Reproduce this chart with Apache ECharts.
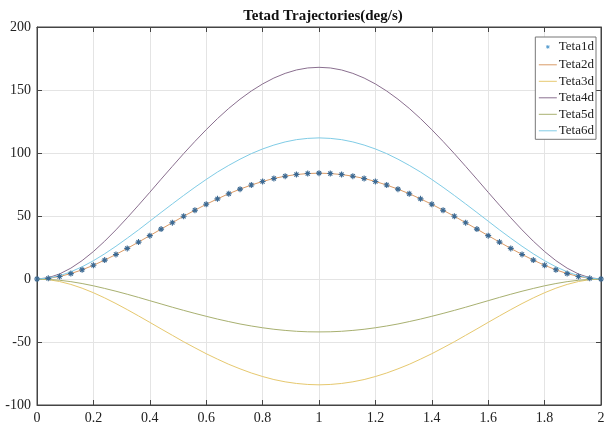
<!DOCTYPE html>
<html>
<head>
<meta charset="utf-8">
<script src="https://cdn.jsdelivr.net/npm/echarts@6/dist/echarts.min.js"></script>
<style>html,body{margin:0;padding:0;background:#fff}#c{width:609px;height:427px}</style>
</head>
<body>
<div id="c"></div>
<script>
var xValues = [0,0.04,0.08,0.12,0.16,0.2,0.24,0.28,0.32,0.36,0.4,0.44,0.48,0.52,0.56,0.6,0.64,0.68,0.72,0.76,0.8,0.84,0.88,0.92,0.96,1.0,1.04,1.08,1.12,1.16,1.2,1.24,1.28,1.32,1.36,1.4,1.44,1.48,1.52,1.56,1.6,1.64,1.68,1.72,1.76,1.8,1.84,1.88,1.92,1.96,2.0];
var teta1d = [0,0.5,2.0,4.3,7.3,10.9,15.0,19.5,24.3,29.3,34.4,39.6,44.7,49.8,54.6,59.3,63.6,67.7,71.3,74.6,77.4,79.8,81.6,82.9,83.7,84.0,83.7,82.9,81.6,79.8,77.4,74.6,71.3,67.7,63.6,59.3,54.6,49.8,44.7,39.6,34.4,29.3,24.3,19.5,15.0,10.9,7.3,4.3,2.0,0.5,0];
var teta2d = [0,0.5,2.0,4.3,7.3,10.9,15.0,19.5,24.3,29.3,34.4,39.6,44.7,49.8,54.6,59.3,63.6,67.7,71.3,74.6,77.4,79.8,81.6,82.9,83.7,84.0,83.7,82.9,81.6,79.8,77.4,74.6,71.3,67.7,63.6,59.3,54.6,49.8,44.7,39.6,34.4,29.3,24.3,19.5,15.0,10.9,7.3,4.3,2.0,0.5,0];
var teta3d = [0,-0.5,-2.0,-4.3,-7.3,-10.9,-15.0,-19.5,-24.3,-29.3,-34.4,-39.6,-44.7,-49.8,-54.6,-59.3,-63.6,-67.7,-71.3,-74.6,-77.4,-79.8,-81.6,-82.9,-83.7,-84.0,-83.7,-82.9,-81.6,-79.8,-77.4,-74.6,-71.3,-67.7,-63.6,-59.3,-54.6,-49.8,-44.7,-39.6,-34.4,-29.3,-24.3,-19.5,-15.0,-10.9,-7.3,-4.3,-2.0,-0.5,0];
var teta4d = [0,1.0,4.0,8.6,14.6,21.8,30.0,39.0,48.6,58.6,68.8,79.2,89.4,99.5,109.2,118.5,127.3,135.4,142.7,149.2,154.8,159.5,163.2,165.9,167.5,168.0,167.5,165.9,163.2,159.5,154.8,149.2,142.7,135.4,127.3,118.5,109.2,99.5,89.4,79.2,68.8,58.6,48.6,39.0,30.0,21.8,14.6,8.6,4.0,1.0,0];
var teta5d = [0,-0.3,-1.0,-2.1,-3.6,-5.4,-7.5,-9.7,-12.1,-14.6,-17.2,-19.8,-22.4,-24.9,-27.3,-29.6,-31.8,-33.8,-35.7,-37.3,-38.7,-39.9,-40.8,-41.5,-41.9,-42.0,-41.9,-41.5,-40.8,-39.9,-38.7,-37.3,-35.7,-33.8,-31.8,-29.6,-27.3,-24.9,-22.4,-19.8,-17.2,-14.6,-12.1,-9.7,-7.5,-5.4,-3.6,-2.1,-1.0,-0.3,0];
var teta6d = [0,0.7,2.6,5.7,9.7,14.5,20.0,26.0,32.4,39.0,45.9,52.8,59.6,66.3,72.8,79.0,84.9,90.2,95.1,99.5,103.2,106.3,108.8,110.6,111.6,112.0,111.6,110.6,108.8,106.3,103.2,99.5,95.1,90.2,84.9,79.0,72.8,66.3,59.6,52.8,45.9,39.0,32.4,26.0,20.0,14.5,9.7,5.7,2.6,0.7,0];
var seriesNames = ['Teta1d','Teta2d','Teta3d','Teta4d','Teta5d','Teta6d'];
var xTicks = {min: 0, max: 2, interval: 0.2};
var yTicks = {min: -100, max: 200, interval: 50};

function pairs(ys){ return xValues.map(function(x,i){ return [x, ys[i]]; }); }

var serif = '"Liberation Serif", "Times New Roman", serif';
var star = 'path://M5 0L5 10M0 5L10 5M1.6 1.6L8.4 8.4M8.4 1.6L1.6 8.4';
var starIcon = 'path://M0 0L0.01 0M40 24L39.99 24M20 8L20 16M16 12L24 12M17.2 9.2L22.8 14.8M22.8 9.2L17.2 14.8';
var lineIcon = 'path://M0 0L40 0L40 2.2L0 2.2Z';

function lineSeries(name, ys, color){
  return {name: name, type: 'line', data: pairs(ys), symbol: 'none', smooth: false,
    lineStyle: {color: color, width: 1}, itemStyle: {color: color}, animation: false, z: 2};
}

var chart = echarts.init(document.getElementById('c'), null, {renderer: 'canvas'});
chart.setOption({
  animation: false,
  backgroundColor: '#fff',
  title: {text: 'Tetad Trajectories(deg/s)', left: 318, top: 4, textAlign: 'center',
    textStyle: {fontFamily: serif, fontSize: 15, fontWeight: 'bold', color: '#111'}},
  grid: {left: 37, right: 8, top: 27, bottom: 22, show: true, borderColor: '#444', borderWidth: 1},
  legend: {
    orient: 'vertical', right: 13, top: 37, itemWidth: 18, itemHeight: 12, itemGap: 3.5,
    padding: [2, 2, 2, 1], backgroundColor: '#fff', borderColor: '#777', borderWidth: 1,
    textStyle: {fontFamily: serif, fontSize: 13, color: '#222', lineHeight: 12, padding: [0,0,0,-3]},
    data: [
      {name: 'Teta1d', icon: starIcon, itemStyle: {color: 'none', borderColor: '#5a9fd0', borderWidth: 1}},
      {name: 'Teta2d', icon: lineIcon},
      {name: 'Teta3d', icon: lineIcon},
      {name: 'Teta4d', icon: lineIcon},
      {name: 'Teta5d', icon: lineIcon},
      {name: 'Teta6d', icon: lineIcon}
    ]
  },
  xAxis: [{
    type: 'value', min: xTicks.min, max: xTicks.max, interval: xTicks.interval,
    axisLine: {show: true, onZero: false, lineStyle: {color: '#444'}},
    axisTick: {show: true, inside: true, length: 5, lineStyle: {color: '#444'}},
    axisLabel: {fontFamily: serif, fontSize: 14, color: '#222', margin: 6},
    splitLine: {show: true, lineStyle: {color: '#e4e4e4'}}
  }, {
    type: 'value', position: 'top', min: xTicks.min, max: xTicks.max, interval: xTicks.interval,
    axisLine: {show: true, onZero: false, lineStyle: {color: '#444'}},
    axisTick: {show: true, inside: true, length: 5, lineStyle: {color: '#444'}},
    axisLabel: {show: false}, splitLine: {show: false}
  }],
  yAxis: [{
    type: 'value', min: yTicks.min, max: yTicks.max, interval: yTicks.interval,
    axisLine: {show: true, onZero: false, lineStyle: {color: '#444'}},
    axisTick: {show: true, inside: true, length: 5, lineStyle: {color: '#444'}},
    axisLabel: {fontFamily: serif, fontSize: 14, color: '#222', margin: 6},
    splitLine: {show: true, lineStyle: {color: '#e4e4e4'}}
  }, {
    type: 'value', position: 'right', min: yTicks.min, max: yTicks.max, interval: yTicks.interval,
    axisLine: {show: true, onZero: false, lineStyle: {color: '#444'}},
    axisTick: {show: true, inside: true, length: 5, lineStyle: {color: '#444'}},
    axisLabel: {show: false}, splitLine: {show: false}
  }],
  series: [
    {name: 'Teta1d', type: 'line', data: pairs(teta1d), symbol: star, symbolSize: 6, showSymbol: true,
      lineStyle: {width: 0, opacity: 0}, animation: false, z: 5,
      itemStyle: {color: '#3d6a93', borderColor: '#3d6a93', borderWidth: 1.1}},
    lineSeries('Teta2d', teta2d, '#d99a66'),
    lineSeries('Teta3d', teta3d, '#e6c86e'),
    lineSeries('Teta4d', teta4d, '#8a6f8f'),
    lineSeries('Teta5d', teta5d, '#a8b070'),
    lineSeries('Teta6d', teta6d, '#80cce6')
  ]
});
</script>
</body>
</html>
